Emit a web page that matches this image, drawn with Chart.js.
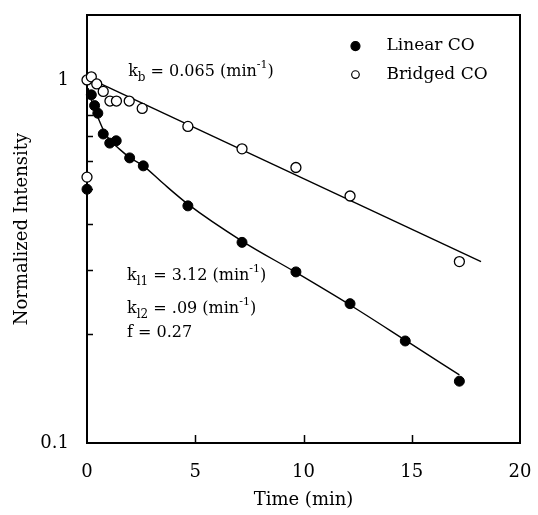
<!DOCTYPE html>
<html>
<head>
<meta charset="utf-8">
<script src="https://cdn.jsdelivr.net/npm/chart.js@4.4.1/dist/chart.umd.min.js"></script>
<style>
  html, body { margin: 0; padding: 0; background: #fff; }
  #wrap { width: 538px; height: 515px; }
</style>
</head>
<body>
<div id="wrap"><canvas id="c" width="538" height="515"></canvas></div>
<script>
// ---- data ----
const linearT   = [0, 0.2, 0.35, 0.5, 0.75, 1.05, 1.35, 1.97, 2.6, 4.66, 7.16, 9.65, 12.15, 14.7, 17.2];
const linearI   = [0.50, 0.91, 0.85, 0.81, 0.71, 0.67, 0.68, 0.61, 0.58, 0.45, 0.357, 0.296, 0.242, 0.191, 0.148];
const bridgedT  = [0, 0, 0.2, 0.45, 0.75, 1.06, 1.36, 1.95, 2.55, 4.66, 7.16, 9.65, 12.15, 17.2];
const bridgedI  = [0.54, 1.0, 1.02, 0.975, 0.93, 0.875, 0.875, 0.875, 0.835, 0.745, 0.646, 0.574, 0.479, 0.316];
const linearFitT  = [0.05, 0.2, 0.35, 0.5, 0.75, 1.0, 1.5, 2.0, 2.6, 3.5, 4.66, 7.16, 9.65, 12.15, 14.7, 17.2];
const linearFitI  = [0.95, 0.88, 0.83, 0.79, 0.73, 0.69, 0.645, 0.61, 0.58, 0.52, 0.455, 0.36, 0.295, 0.24, 0.192, 0.154];
const bridgedFitT = [0.1, 18.2];
const bridgedFitI = [1.01, 0.316];
const seriesNames = ['Linear CO', 'Bridged CO'];
const xTickValues = [0, 5, 10, 15, 20];
const yTickLabels = {0.1: '0.1', 1: '1'};
const yMinorTicks = [0.2, 0.3, 0.4, 0.5, 0.6, 0.7, 0.8, 0.9];
const xInnerTicks = [5, 10, 15];
const axisTitles = {x: 'Time (min)', y: 'Normalized Intensity'};
// annotations: anchors in data units, with text pieces
const annotations = [
  {t: 1.9, v: 1.05, parts: [['k',''],['b','sub'],[' = 0.065 (min',''],['-1','sup'],[')','']]},
  {t: 1.85, v: 0.288, parts: [['k',''],['l1','sub'],[' = 3.12 (min',''],['-1','sup'],[')','']]},
  {t: 1.85, v: 0.234, parts: [['k',''],['l2','sub'],[' = .09 (min',''],['-1','sup'],[')','']]},
  {t: 1.85, v: 0.201, parts: [['f = 0.27','']]}
];
const legendAnchor = {t: 12.4, v: [1.24, 1.035]};

const toPts = (xs, ys) => xs.map((x, i) => ({x: x, y: ys[i]}));
const FONT = "'DejaVu Serif', 'Liberation Serif', serif";

const framePlugin = {
  id: 'frame',
  beforeDatasetsDraw(chart) {
    const {ctx, chartArea: a, scales} = chart;
    ctx.save();
    ctx.strokeStyle = '#000';
    ctx.lineWidth = 2;
    ctx.strokeRect(a.left, a.top, a.right - a.left, a.bottom - a.top);
    ctx.lineWidth = 1.5;
    ctx.beginPath();
    yMinorTicks.forEach(v => {
      const y = Math.round(scales.y.getPixelForValue(v)) + 0.5;
      ctx.moveTo(a.left, y); ctx.lineTo(a.left + 6, y);
    });
    xInnerTicks.forEach(t => {
      const x = Math.round(scales.x.getPixelForValue(t)) + 0.5;
      ctx.moveTo(x, a.bottom); ctx.lineTo(x, a.bottom - 8);
    });
    ctx.stroke();
    ctx.restore();
  },
  afterDatasetsDraw(chart) {
    const {ctx, scales} = chart;
    ctx.save();
    ctx.fillStyle = '#000';
    ctx.textBaseline = 'middle';
    annotations.forEach(an => {
      let x = scales.x.getPixelForValue(an.t);
      const y = scales.y.getPixelForValue(an.v);
      an.parts.forEach(([txt, kind]) => {
        if (kind === 'sub') {
          ctx.font = '12px ' + FONT;
          ctx.fillText(txt, x, y + 6);
        } else if (kind === 'sup') {
          ctx.font = '11px ' + FONT;
          ctx.fillText(txt, x, y - 7);
        } else {
          ctx.font = '16px ' + FONT;
          ctx.fillText(txt, x, y);
        }
        x += ctx.measureText(txt).width;
      });
    });
    const lx = scales.x.getPixelForValue(legendAnchor.t);
    [0, 1].forEach(i => {
      const ds = chart.data.datasets[i];
      const y = scales.y.getPixelForValue(legendAnchor.v[i]);
      ctx.beginPath();
      ctx.arc(lx, y, i === 0 ? 4.5 : 3.8, 0, Math.PI * 2);
      ctx.fillStyle = ds.pointBackgroundColor;
      ctx.fill();
      ctx.lineWidth = 1.2;
      ctx.strokeStyle = '#000';
      ctx.stroke();
      ctx.fillStyle = '#000';
      ctx.font = '17px ' + FONT;
      ctx.fillText(ds.label, lx + 31, y);
    });
    ctx.restore();
  }
};

new Chart(document.getElementById('c'), {
  type: 'scatter',
  data: {
    datasets: [
      {label: seriesNames[0], data: toPts(linearT, linearI), pointRadius: 5, pointHoverRadius: 5,
       pointBackgroundColor: '#000', pointBorderColor: '#000', pointBorderWidth: 1, clip: false, order: 1},
      {label: seriesNames[1], data: toPts(bridgedT, bridgedI), pointRadius: 5, pointHoverRadius: 5,
       pointBackgroundColor: '#fff', pointBorderColor: '#000', pointBorderWidth: 1.3, clip: false, order: 0},
      {label: 'fit linear', data: toPts(linearFitT, linearFitI), showLine: true, pointRadius: 0,
       borderColor: '#000', borderWidth: 1.4, cubicInterpolationMode: 'monotone', order: 2},
      {label: 'fit bridged', data: toPts(bridgedFitT, bridgedFitI), showLine: true, pointRadius: 0,
       borderColor: '#000', borderWidth: 1.4, order: 3}
    ]
  },
  options: {
    responsive: false,
    animation: false,
    events: [],
    layout: {padding: {top: 15, right: 18, left: 0, bottom: 0}},
    plugins: {legend: {display: false}, tooltip: {enabled: false}},
    scales: {
      x: {
        type: 'linear', min: 0, max: 20,
        afterBuildTicks: s => { s.ticks = xTickValues.map(v => ({value: v})); },
        afterFit: s => { s.height = 72; s.paddingLeft = 0; s.paddingRight = 0; },
        grid: {display: false, drawTicks: false},
        border: {display: false},
        ticks: {color: '#000', font: {family: FONT, size: 18}, padding: 19, maxRotation: 0},
        title: {display: true, text: axisTitles.x, color: '#000', font: {family: FONT, size: 18},
                padding: {top: 0, bottom: 4}}
      },
      y: {
        type: 'logarithmic', min: 0.1, max: 1.51,
        afterBuildTicks: s => { s.ticks = Object.keys(yTickLabels).map(v => ({value: +v})); },
        afterFit: s => { s.width = 87; s.paddingTop = 0; s.paddingBottom = 0; },
        grid: {display: false, drawTicks: false},
        border: {display: false},
        ticks: {color: '#000', font: {family: FONT, size: 18}, padding: 18,
                callback: v => yTickLabels[v] || ''},
        title: {display: true, text: axisTitles.y, color: '#000', font: {family: FONT, size: 18},
                padding: {top: 12, bottom: 0}}
      }
    }
  },
  plugins: [framePlugin]
});
</script>
</body>
</html>
